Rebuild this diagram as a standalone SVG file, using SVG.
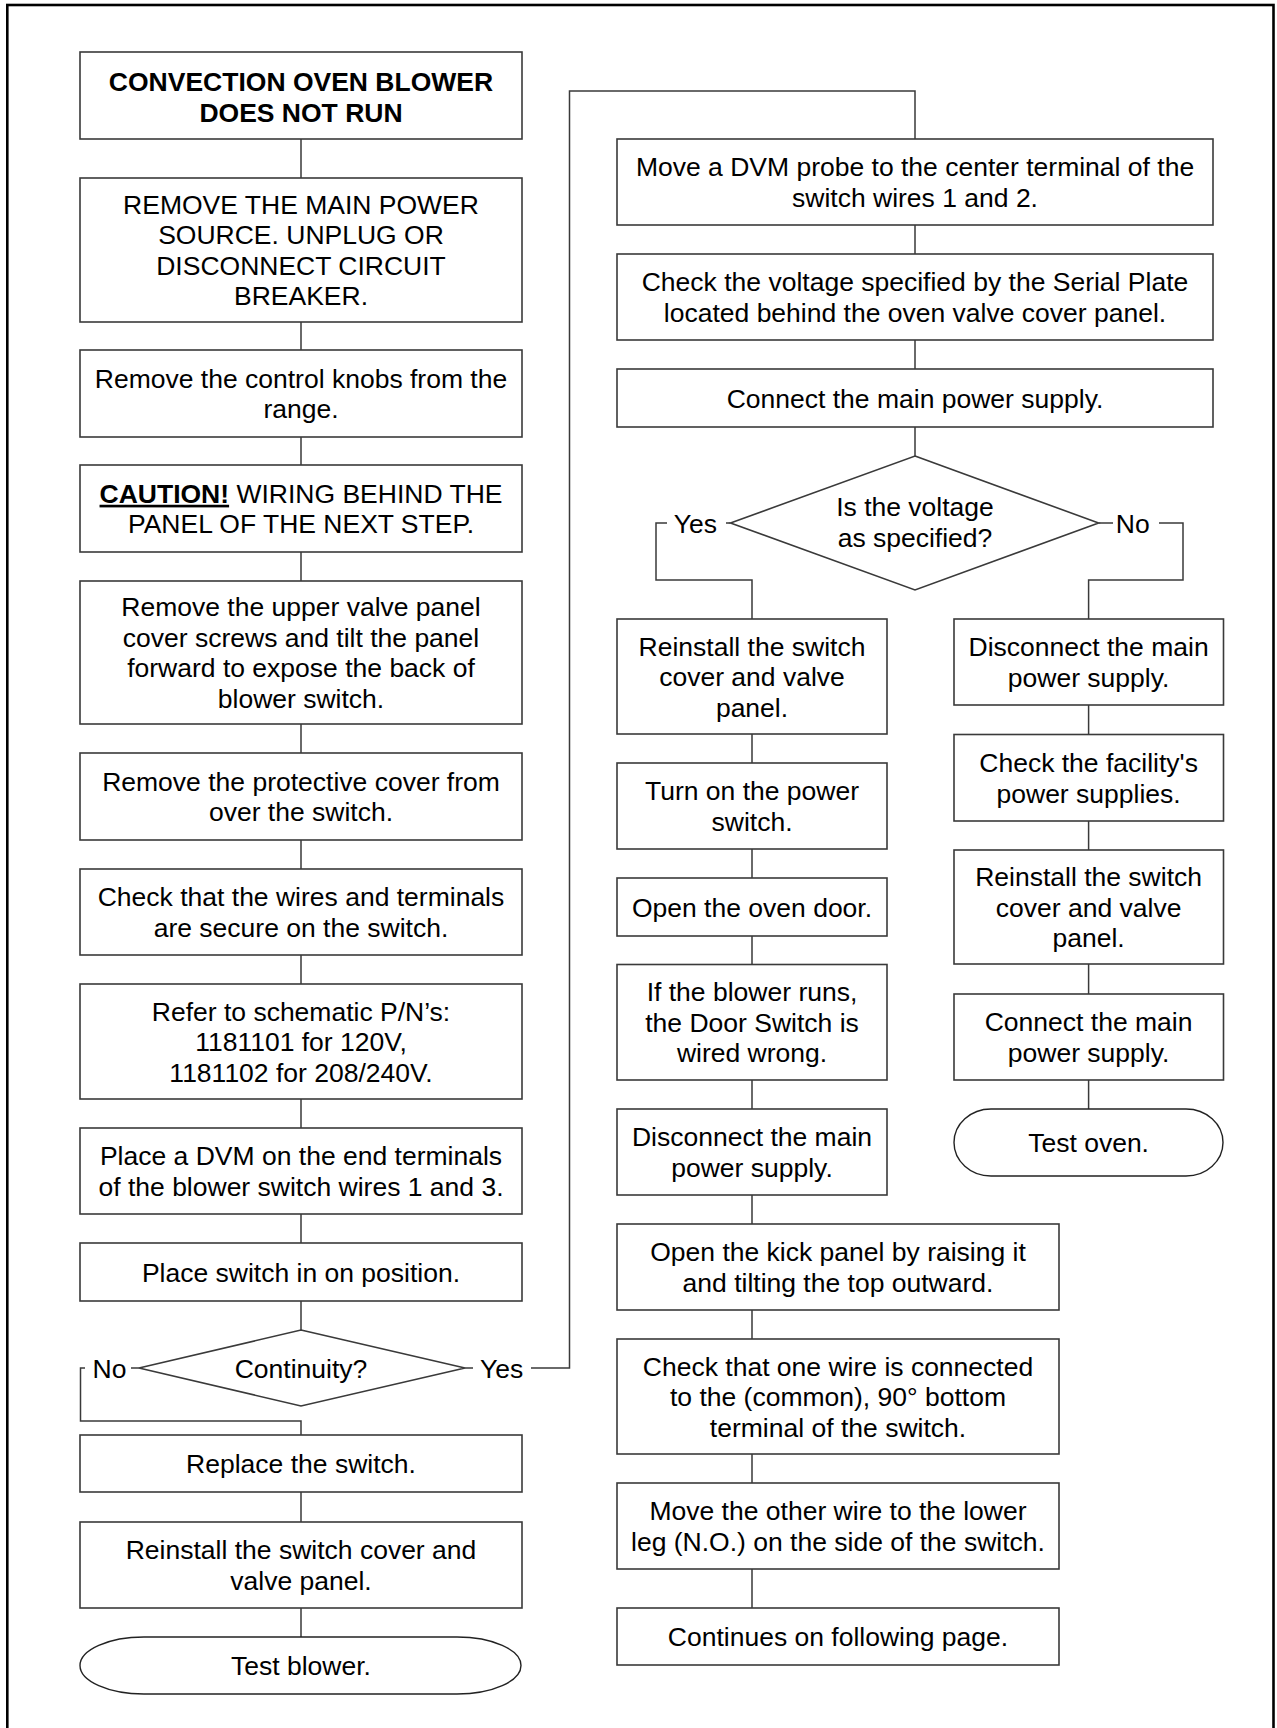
<svg xmlns="http://www.w3.org/2000/svg" width="1277" height="1728" viewBox="0 0 1277 1728">
<style>
.box{fill:#fff;stroke:#3a3a3a;stroke-width:1.6}
.term{fill:#fff;stroke:#222;stroke-width:1.4}
.con{fill:none;stroke:#3a3a3a;stroke-width:1.5}
text{font-family:"Liberation Sans",Arial,sans-serif;font-size:26.5px;fill:#000;text-anchor:middle}
.b{font-weight:bold}
</style>
<rect x="0" y="0" width="1277" height="1728" fill="#fff"/>
<rect x="7.3" y="5" width="1266.2" height="1760" fill="none" stroke="#000" stroke-width="2.6"/>

<g id="connectors">
<path class="con" d="M301 139V178M301 322V350M301 437V465M301 552V581M301 724V753M301 840V869M301 955V984M301 1099V1128M301 1214V1243M301 1301V1330M301 1492V1522M301 1608V1637"/>
<path class="con" d="M139 1368H131M85 1368H80.5V1421H301V1435"/>
<path class="con" d="M465 1368H473M531 1368H569.5V91H915V139"/>
<path class="con" d="M915 225V254M915 340V369M915 427V456"/>
<path class="con" d="M730.5 523H726M667 523H656V580H752V619"/>
<path class="con" d="M1098.6 523H1113M1159 523H1183V580H1088.6V619"/>
<path class="con" d="M752 734V763M752 849V878M752 936V964.5M752 1080V1109M752 1195V1224M752 1310V1339M752 1454V1483M752 1569V1608"/>
<path class="con" d="M1088.6 705V734.5M1088.6 821V850M1088.6 964V994M1088.6 1080V1109"/>
<text x="109.5" y="1377.5">No</text>
<text x="501.7" y="1377.5">Yes</text>
<text x="695.4" y="532.5">Yes</text>
<text x="1132.8" y="532.5">No</text>
</g>

<g id="n-title">
<rect class="box" x="80" y="52" width="442" height="87"/>
<text class="b" x="301" y="90.5">CONVECTION OVEN BLOWER</text>
<text class="b" x="301" y="121.5">DOES NOT RUN</text>
</g>
<g id="n-remove-power">
<rect class="box" x="80" y="178" width="442" height="144"/>
<text x="301" y="213.5">REMOVE THE MAIN POWER</text>
<text x="301" y="244">SOURCE. UNPLUG OR</text>
<text x="301" y="274.5">DISCONNECT CIRCUIT</text>
<text x="301" y="305">BREAKER.</text>
</g>
<g id="n-knobs">
<rect class="box" x="80" y="350" width="442" height="87"/>
<text x="301" y="387.75">Remove the control knobs from the</text>
<text x="301" y="418.25">range.</text>
</g>
<g id="n-caution">
<rect class="box" x="80" y="465" width="442" height="87"/>
<text x="301" y="502.75"><tspan class="b" text-decoration="underline">CAUTION!</tspan> WIRING BEHIND THE</text>
<text x="301" y="533.25">PANEL OF THE NEXT STEP.</text>
</g>
<g id="n-upper-panel">
<rect class="box" x="80" y="581" width="442" height="143"/>
<text x="301" y="616.25">Remove the upper valve panel</text>
<text x="301" y="646.75">cover screws and tilt the panel</text>
<text x="301" y="677.25">forward to expose the back of</text>
<text x="301" y="707.75">blower switch.</text>
</g>
<g id="n-protective">
<rect class="box" x="80" y="753" width="442" height="87"/>
<text x="301" y="790.75">Remove the protective cover from</text>
<text x="301" y="821.25">over the switch.</text>
</g>
<g id="n-check-wires">
<rect class="box" x="80" y="869" width="442" height="86"/>
<text x="301" y="906.25">Check that the wires and terminals</text>
<text x="301" y="936.75">are secure on the switch.</text>
</g>
<g id="n-schematic">
<rect class="box" x="80" y="984" width="442" height="115"/>
<text x="301" y="1020.5">Refer to schematic P/N’s:</text>
<text x="301" y="1051">1181101 for 120V,</text>
<text x="301" y="1081.5">1181102 for 208/240V.</text>
</g>
<g id="n-dvm-end">
<rect class="box" x="80" y="1128" width="442" height="86"/>
<text x="301" y="1165.25">Place a DVM on the end terminals</text>
<text x="301" y="1195.75">of the blower switch wires 1 and 3.</text>
</g>
<g id="n-switch-on">
<rect class="box" x="80" y="1243" width="442" height="58"/>
<text x="301" y="1281.5">Place switch in on position.</text>
</g>
<g id="n-continuity">
<polygon class="box" points="301,1330 465,1368 301,1406 139,1368"/>
<text x="301" y="1377.5">Continuity?</text>
</g>
<g id="n-replace">
<rect class="box" x="80" y="1435" width="442" height="57"/>
<text x="301" y="1473">Replace the switch.</text>
</g>
<g id="n-reinstall-left">
<rect class="box" x="80" y="1522" width="442" height="86"/>
<text x="301" y="1559.25">Reinstall the switch cover and</text>
<text x="301" y="1589.75">valve panel.</text>
</g>
<g id="n-test-blower">
<path class="term" d="M144 1637H457A64 28.5 0 0 1 457 1694H144A64 28.5 0 0 1 144 1637Z"/>
<text x="301" y="1675">Test blower.</text>
</g>

<g id="n-dvm-center">
<rect class="box" x="617" y="139" width="596" height="86"/>
<text x="915" y="176.25">Move a DVM probe to the center terminal of the</text>
<text x="915" y="206.75">switch wires 1 and 2.</text>
</g>
<g id="n-serial-plate">
<rect class="box" x="617" y="254" width="596" height="86"/>
<text x="915" y="291.25">Check the voltage specified by the Serial Plate</text>
<text x="915" y="321.75">located behind the oven valve cover panel.</text>
</g>
<g id="n-connect-power">
<rect class="box" x="617" y="369" width="596" height="58"/>
<text x="915" y="407.5">Connect the main power supply.</text>
</g>
<g id="n-voltage">
<polygon class="box" points="915,456 1098.6,523 915,590 730.5,523"/>
<text x="915" y="516">Is the voltage</text>
<text x="915" y="546.5">as specified?</text>
</g>

<g id="n-yes-reinstall">
<rect class="box" x="617" y="619" width="270" height="115"/>
<text x="752" y="655.5">Reinstall the switch</text>
<text x="752" y="686">cover and valve</text>
<text x="752" y="716.5">panel.</text>
</g>
<g id="n-power-switch">
<rect class="box" x="617" y="763" width="270" height="86"/>
<text x="752" y="800.25">Turn on the power</text>
<text x="752" y="830.75">switch.</text>
</g>
<g id="n-oven-door">
<rect class="box" x="617" y="878" width="270" height="58"/>
<text x="752" y="916.5">Open the oven door.</text>
</g>
<g id="n-blower-runs">
<rect class="box" x="617" y="964.5" width="270" height="115.5"/>
<text x="752" y="1001">If the blower runs,</text>
<text x="752" y="1031.5">the Door Switch is</text>
<text x="752" y="1062">wired wrong.</text>
</g>
<g id="n-yes-disconnect">
<rect class="box" x="617" y="1109" width="270" height="86"/>
<text x="752" y="1146.25">Disconnect the main</text>
<text x="752" y="1176.75">power supply.</text>
</g>
<g id="n-kick-panel">
<rect class="box" x="617" y="1224" width="442" height="86"/>
<text x="838" y="1261.25">Open the kick panel by raising it</text>
<text x="838" y="1291.75">and tilting the top outward.</text>
</g>
<g id="n-common">
<rect class="box" x="617" y="1339" width="442" height="115"/>
<text x="838" y="1375.5">Check that one wire is connected</text>
<text x="838" y="1406">to the (common), 90° bottom</text>
<text x="838" y="1436.5">terminal of the switch.</text>
</g>
<g id="n-other-wire">
<rect class="box" x="617" y="1483" width="442" height="86"/>
<text x="838" y="1520.25">Move the other wire to the lower</text>
<text x="838" y="1550.75">leg (N.O.) on the side of the switch.</text>
</g>
<g id="n-continues">
<rect class="box" x="617" y="1608" width="442" height="57"/>
<text x="838" y="1646">Continues on following page.</text>
</g>

<g id="n-no-disconnect">
<rect class="box" x="954" y="619" width="269.5" height="86"/>
<text x="1088.6" y="656.25">Disconnect the main</text>
<text x="1088.6" y="686.75">power supply.</text>
</g>
<g id="n-facility">
<rect class="box" x="954" y="734.5" width="269.5" height="86.5"/>
<text x="1088.6" y="772">Check the facility's</text>
<text x="1088.6" y="802.5">power supplies.</text>
</g>
<g id="n-no-reinstall">
<rect class="box" x="954" y="850" width="269.5" height="114"/>
<text x="1088.6" y="886">Reinstall the switch</text>
<text x="1088.6" y="916.5">cover and valve</text>
<text x="1088.6" y="947">panel.</text>
</g>
<g id="n-no-connect">
<rect class="box" x="954" y="994" width="269.5" height="86"/>
<text x="1088.6" y="1031.25">Connect the main</text>
<text x="1088.6" y="1061.75">power supply.</text>
</g>
<g id="n-test-oven">
<path class="term" d="M991 1109H1186A37 33.5 0 0 1 1186 1176H991A37 33.5 0 0 1 991 1109Z"/>
<text x="1088.6" y="1152">Test oven.</text>
</g>
</svg>
